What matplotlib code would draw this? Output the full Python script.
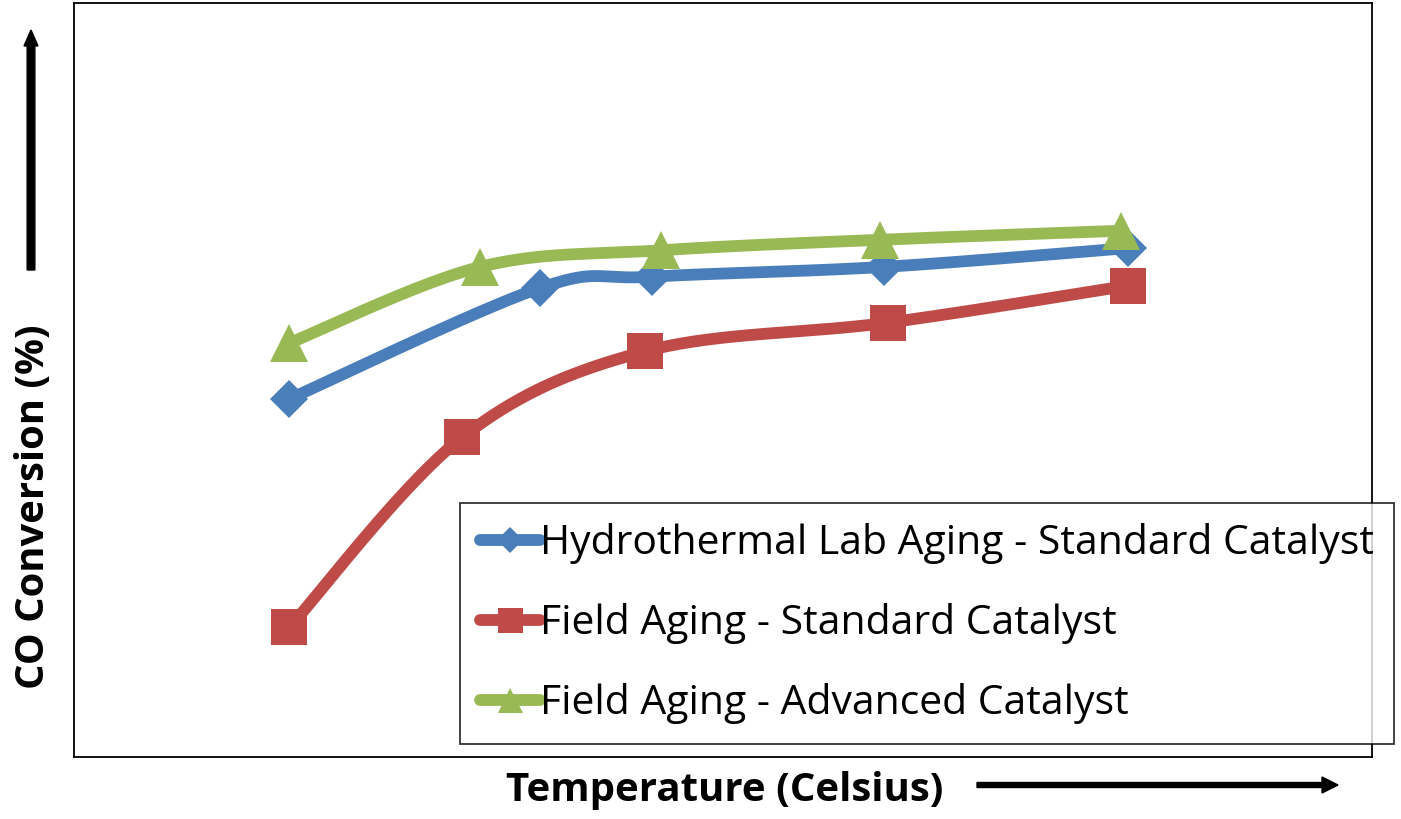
import numpy as np
import matplotlib
matplotlib.use("Agg")
import matplotlib.pyplot as plt
from matplotlib.lines import Line2D

# Data (arbitrary units: x = temperature position, y = CO conversion)
series_names = ["Hydrothermal Lab Aging - Standard Catalyst",
                "Field Aging - Standard Catalyst",
                "Field Aging - Advanced Catalyst"]
blue_x = [16.6, 35.9, 44.5, 62.4, 81.2]
blue_y = [47.5, 62.2, 63.7, 65.0, 67.5]
red_x = [16.6, 29.9, 44.0, 62.7, 81.2]
red_y = [17.2, 42.4, 53.8, 57.6, 62.5]
green_x = [16.6, 31.3, 45.2, 62.1, 80.7]
green_y = [54.9, 65.0, 67.2, 68.6, 69.8]

colors = ["#4A7EBB", "#BE4B48", "#98B954"]
markers = ["D", "s", "^"]
msizes = [19, 26, 27]
leg_msizes = [13, 18, 18]


def smooth(xs, ys, n=40):
    P = np.column_stack([xs, ys]).astype(float)
    out = [P[0]]
    for i in range(len(P) - 1):
        p0 = P[i - 1] if i > 0 else P[i]
        p1 = P[i]
        p2 = P[i + 1]
        p3 = P[i + 2] if i + 2 < len(P) else P[i + 1]
        c1 = p1 + (p2 - p0) / 6.0
        c2 = p2 - (p3 - p1) / 6.0
        t = np.linspace(0, 1, n)[1:, None]
        seg = ((1 - t) ** 3) * p1 + 3 * ((1 - t) ** 2) * t * c1 + 3 * (1 - t) * t ** 2 * c2 + t ** 3 * p2
        out.extend(seg)
    out = np.array(out)
    return out[:, 0], out[:, 1]


W, H = 1401, 819
fig = plt.figure(figsize=(W / 100, H / 100), dpi=100)
ax = fig.add_axes([74 / W, (H - 757) / H, 1298 / W, 754 / H])
ax.set_xlim(0, 100)
ax.set_ylim(0, 100)
ax.set_xticks([])
ax.set_yticks([])
for s in ax.spines.values():
    s.set_linewidth(1.3)
    s.set_color("black")

data = [(blue_x, blue_y), (red_x, red_y), (green_x, green_y)]
handles = []
for (xs, ys), c, m, ms, lms in zip(data, colors, markers, msizes, leg_msizes):
    sx, sy = smooth(xs, ys)
    ax.plot(sx, sy, color=c, lw=8.5, solid_capstyle="round", solid_joinstyle="round", zorder=2)
    ax.plot(xs, ys, linestyle="none", marker=m, ms=ms, color=c, markeredgewidth=0, zorder=3)
    handles.append(Line2D([0], [0], color=c, lw=8.5, marker=m, ms=lms,
                          markeredgewidth=0, solid_capstyle="round"))

font = "Open Sans"
leg = fig.legend(handles, series_names, loc="upper left",
                 bbox_to_anchor=(460 / W, 1 - 503 / H),
                 prop={"family": font, "size": 29.4},
                 frameon=True, fancybox=False, edgecolor="black",
                 handlelength=1.45, handletextpad=0.0, labelspacing=0.95,
                 borderpad=0.5, borderaxespad=0.0)
leg.get_frame().set_linewidth(1.3)
leg.set_zorder(5)

fig.text(34 / W, 1 - 507 / H, "CO Conversion (%)", rotation=90, ha="center", va="center",
         fontsize=28.8, fontweight="bold", family=font)
fig.text(725 / W, 1 - 790 / H, "Temperature (Celsius)", ha="center", va="center",
         fontsize=29, fontweight="bold", family=font)

fig.patches.append(matplotlib.patches.FancyArrow(
    31 / W, 1 - 270 / H, 0, (270 - 30) / H, width=4.5 / H, head_width=14 / W,
    head_length=16 / H, length_includes_head=True, color="black", transform=fig.transFigure))
fig.patches.append(matplotlib.patches.FancyArrow(
    977 / W, 1 - 785 / H, (1338 - 977) / W, 0, width=5 / H, head_width=16 / H,
    head_length=16 / W, length_includes_head=True, color="black", transform=fig.transFigure))

fig.savefig("out.png", dpi=100)
